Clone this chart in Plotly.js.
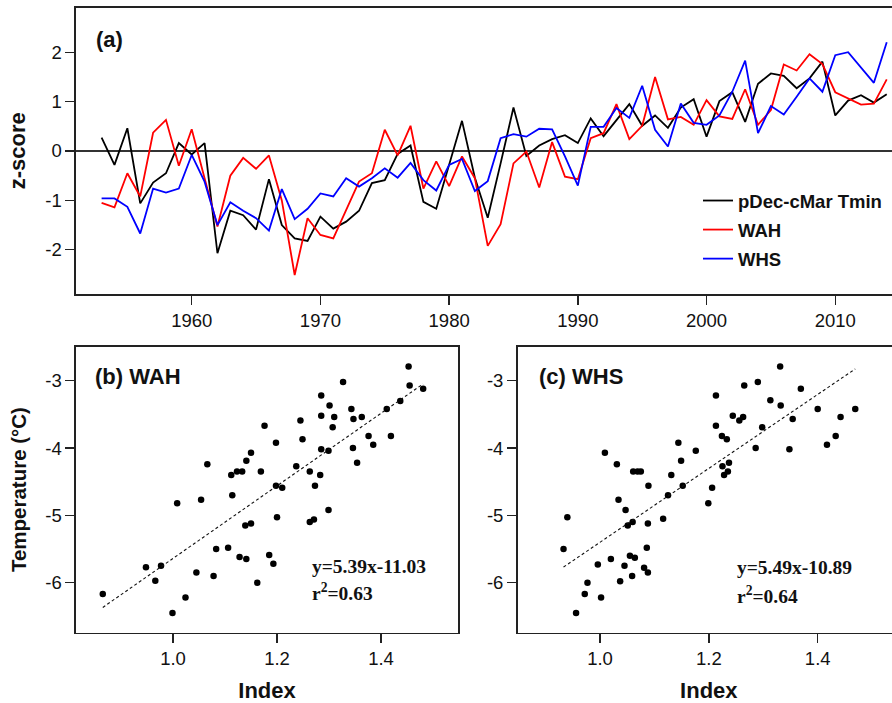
<!DOCTYPE html>
<html>
<head>
<meta charset="utf-8">
<script src="https://cdn.plot.ly/plotly-3.0.1.min.js"></script>
<style>
  html, body { margin: 0; padding: 0; overflow: hidden; background: #fff; }
  #chart { width: 900px; height: 703px; }
</style>
</head>
<body>
<div id="chart"></div>
<script>
// ---------- data ----------
const years = [1953,1954,1955,1956,1957,1958,1959,1960,1961,1962,1963,1964,1965,1966,1967,1968,1969,1970,1971,1972,
  1973,1974,1975,1976,1977,1978,1979,1980,1981,1982,1983,1984,1985,1986,1987,1988,1989,1990,1991,1992,
  1993,1994,1995,1996,1997,1998,1999,2000,2001,2002,2003,2004,2005,2006,2007,2008,2009,2010,2011,2012,2013,2014];

const tminZ = [0.27,-0.28,0.46,-1.06,-0.64,-0.45,0.16,-0.07,0.16,-2.07,-1.21,-1.30,-1.59,-0.57,-1.50,-1.77,-1.82,-1.33,-1.57,-1.43,
  -1.21,-0.65,-0.59,-0.06,0.11,-1.03,-1.17,-0.28,0.61,-0.54,-1.35,-0.25,0.88,-0.10,0.11,0.24,0.32,0.16,0.66,0.30,
  0.62,0.95,0.51,0.72,0.47,0.88,1.05,0.29,1.01,1.19,0.59,1.36,1.57,1.52,1.27,1.47,1.81,0.72,1.02,1.13,0.98,1.15];

const wahZ = [-1.05,-1.14,-0.45,-0.92,0.37,0.63,-0.30,0.44,-0.55,-1.53,-0.50,-0.14,-0.36,-0.09,-1.00,-2.51,-1.36,-1.70,-1.77,-1.20,
  -0.62,-0.45,0.43,-0.09,0.51,-0.76,-0.21,-0.71,-0.11,-0.55,-1.92,-1.48,-0.25,-0.01,-0.74,0.18,-0.52,-0.57,0.26,0.36,
  0.95,0.24,0.51,1.50,0.64,0.69,0.53,1.03,0.70,0.65,1.25,0.53,0.83,1.75,1.63,1.96,1.76,1.19,1.07,0.94,0.96,1.45];

const whsZ = [-0.96,-0.96,-1.13,-1.67,-0.76,-0.84,-0.76,-0.08,-0.62,-1.50,-1.04,-1.21,-1.36,-1.61,-0.77,-1.38,-1.17,-0.86,-0.92,-0.55,
  -0.72,-0.55,-0.35,-0.54,-0.24,-0.59,-0.80,-0.28,-0.16,-0.81,-0.61,0.26,0.34,0.29,0.45,0.44,-0.11,-0.70,0.49,0.49,
  0.87,0.67,1.32,0.43,0.09,0.96,0.57,0.53,0.72,1.20,1.83,0.36,0.91,0.74,1.10,1.47,1.20,1.94,2.00,1.69,1.38,2.20];

const seriesNames = ["pDec-cMar Tmin", "WAH", "WHS"];

// (b) WAH index vs temperature
const wahIndex = [0.865,0.948,0.977,0.966,0.999,1.008,1.024,1.045,1.054,1.066,1.078,1.083,1.106,1.112,1.114,1.123,1.133,1.141,1.150,1.128,
  1.141,1.139,1.150,1.162,1.169,1.176,1.185,1.193,1.198,1.198,1.210,1.200,1.237,1.245,1.249,1.263,1.263,1.271,1.273,1.283,
  1.285,1.285,1.285,1.299,1.301,1.299,1.307,1.310,1.327,1.343,1.346,1.347,1.354,1.363,1.376,1.385,1.411,1.419,1.437,1.453,1.455,1.481];
const wahTemp = [-6.17,-5.77,-5.75,-5.97,-6.45,-4.82,-6.22,-5.85,-4.77,-4.24,-5.90,-5.50,-5.48,-4.40,-4.70,-4.35,-4.35,-4.19,-4.07,-5.62,
  -5.65,-5.15,-5.12,-6.00,-4.35,-3.67,-5.59,-5.72,-3.92,-4.56,-4.59,-5.03,-4.27,-3.59,-3.87,-4.35,-5.10,-5.06,-4.56,-4.40,
  -3.22,-3.52,-4.02,-4.04,-3.37,-4.92,-3.69,-3.54,-3.02,-3.42,-4.00,-3.57,-4.22,-3.54,-3.82,-3.95,-3.42,-3.82,-3.30,-2.79,-3.07,-3.12];

// (c) WHS index vs temperature
const whsIndex = [0.933,0.940,0.956,0.972,0.977,0.996,1.002,1.009,1.020,1.031,1.034,1.037,1.045,1.047,1.051,1.055,1.059,1.060,1.061,1.064,
  1.069,1.075,1.081,1.086,1.088,1.088,1.089,1.116,1.125,1.131,1.144,1.149,1.152,1.176,1.199,1.206,1.213,1.213,1.224,1.225,
  1.228,1.233,1.235,1.237,1.244,1.256,1.263,1.265,1.286,1.290,1.298,1.313,1.331,1.332,1.348,1.354,1.369,1.400,1.417,1.433,1.442,1.469];
const whsTemp = [-5.50,-5.03,-6.45,-6.17,-6.00,-5.73,-6.22,-4.07,-5.65,-4.24,-4.77,-5.98,-5.75,-4.92,-5.15,-5.60,-5.90,-5.10,-4.35,-5.63,
  -4.35,-4.35,-5.78,-5.48,-5.12,-5.85,-4.56,-5.05,-4.70,-4.40,-3.92,-4.19,-4.56,-4.04,-4.82,-4.59,-3.67,-3.22,-3.82,-4.27,
  -4.40,-3.87,-4.35,-4.22,-3.52,-3.59,-3.54,-3.07,-4.00,-3.02,-3.69,-3.29,-2.79,-3.37,-4.02,-3.57,-3.12,-3.42,-3.95,-3.82,-3.54,-3.42];

// regression coefficients (as printed)
const wahFit = {slope: 5.39, intercept: -11.03, r2: "0.63"};
const whsFit = {slope: 5.49, intercept: -10.89, r2: "0.64"};

// tick labels
const yearTicks = [1960,1970,1980,1990,2000,2010];
const zTicks = [-2,-1,0,1,2];
const zTickText = ["-2","-1","0","1","2"];
const idxTicks = [1.0,1.2,1.4];
const idxTickText = ["1.0","1.2","1.4"];
const tTicks = [-6,-5,-4,-3];
const tTickText = ["-6","-5","-4","-3"];

// ---------- build ----------
const W = 900, H = 703;
const SANS = "Liberation Sans, Arial, Helvetica, sans-serif";
const SERIF = "Liberation Serif, Times New Roman, serif";
const px = v => v / W;
const py = v => 1 - v / H;

function fitLine(xs, fit, xa, ya) {
  const x0 = Math.min(...xs), x1 = Math.max(...xs);
  return {
    x: [x0, x1],
    y: [fit.slope * x0 + fit.intercept, fit.slope * x1 + fit.intercept],
    xaxis: xa, yaxis: ya, mode: "lines", showlegend: false, hoverinfo: "skip",
    line: {color: "#111", width: 1.1, dash: "3px,2.5px"}
  };
}

const traces = [
  {x: years, y: tminZ, name: seriesNames[0], legendgroup: "g1", mode: "lines", line: {color: "#000", width: 1.8}, xaxis: "x", yaxis: "y"},
  {x: years, y: wahZ, name: seriesNames[1], legendgroup: "g2", mode: "lines", line: {color: "#ff0000", width: 1.8}, xaxis: "x", yaxis: "y"},
  {x: years, y: whsZ, name: seriesNames[2], legendgroup: "g3", mode: "lines", line: {color: "#0000ff", width: 1.8}, xaxis: "x", yaxis: "y"},
  {x: wahIndex, y: wahTemp, mode: "markers", marker: {color: "#000", size: 6.5}, xaxis: "x2", yaxis: "y2", showlegend: false},
  fitLine(wahIndex, wahFit, "x2", "y2"),
  {x: whsIndex, y: whsTemp, mode: "markers", marker: {color: "#000", size: 6.5}, xaxis: "x3", yaxis: "y3", showlegend: false},
  fitLine(whsIndex, whsFit, "x3", "y3")
];

const axBase = {
  showline: true, linecolor: "#222", linewidth: 1.6, mirror: true,
  ticks: "outside", ticklen: 9, tickwidth: 1.4, tickcolor: "#222",
  showgrid: false, zeroline: false,
  tickfont: {family: SANS, size: 18.5, color: "#111"}
};
const titleFont = {family: SANS, size: 22, color: "#111", weight: "bold"};

const layout = {
  width: W, height: H,
  margin: {l: 0, r: 0, t: 0, b: 0},
  paper_bgcolor: "#fff", plot_bgcolor: "#fff",
  font: {family: SANS, color: "#111"},
  showlegend: true,
  legend: {
    x: px(698), y: py(182), xanchor: "left", yanchor: "top",
    bgcolor: "rgba(0,0,0,0)", borderwidth: 0,
    font: {family: SANS, size: 18.5, color: "#111", weight: "bold"},
    traceorder: "grouped", tracegroupgap: 2
  },
  xaxis: Object.assign({}, axBase, {
    domain: [px(76), 1], range: [1951.01, 2015.03], anchor: "y",
    tickvals: yearTicks
  }),
  yaxis: Object.assign({}, axBase, {
    domain: [py(294), py(7.5)], range: [-2.895, 2.905], anchor: "x",
    tickvals: zTicks, ticktext: zTickText,
    zeroline: true, zerolinecolor: "#333", zerolinewidth: 1.1,
    title: {text: "z-score", font: titleFont, standoff: 13}
  }),
  xaxis2: Object.assign({}, axBase, {
    domain: [px(76), px(458)], range: [0.8135, 1.548], anchor: "y2",
    tickvals: idxTicks, ticktext: idxTickText,
    title: {text: "Index", font: titleFont, standoff: 14}
  }),
  yaxis2: Object.assign({}, axBase, {
    domain: [py(632.5), py(346.7)], range: [-6.74, -2.495], anchor: "x2",
    tickvals: tTicks, ticktext: tTickText,
    title: {text: "Temperature (°C)", font: {family: SANS, size: 20.5, color: "#111", weight: "bold"}, standoff: 13}
  }),
  xaxis3: Object.assign({}, axBase, {
    domain: [px(517.7), 1], range: [0.8488, 1.5512], anchor: "y3",
    tickvals: idxTicks, ticktext: idxTickText,
    title: {text: "Index", font: titleFont, standoff: 14}
  }),
  yaxis3: Object.assign({}, axBase, {
    domain: [py(632.5), py(346.7)], range: [-6.74, -2.495], anchor: "x3",
    tickvals: tTicks, ticktext: tTickText
  }),
  annotations: [
    {text: "(a)", xref: "paper", yref: "paper", x: px(94), y: py(39.5), xanchor: "left", yanchor: "middle", showarrow: false,
     font: {family: SANS, size: 22, color: "#111", weight: "bold"}},
    {text: "(b) WAH", xref: "paper", yref: "paper", x: px(93), y: py(377), xanchor: "left", yanchor: "middle", showarrow: false,
     font: {family: SANS, size: 22, color: "#111", weight: "bold"}},
    {text: "(c) WHS", xref: "paper", yref: "paper", x: px(537), y: py(377), xanchor: "left", yanchor: "middle", showarrow: false,
     font: {family: SANS, size: 22, color: "#111", weight: "bold"}},
    {text: "y=" + wahFit.slope + "x" + wahFit.intercept, xref: "paper", yref: "paper", x: px(310), y: py(566), xanchor: "left", yanchor: "middle", showarrow: false,
     font: {family: SERIF, size: 19.5, color: "#111", weight: "bold"}},
    {text: "r<sup>2</sup>=" + wahFit.r2, xref: "paper", yref: "paper", x: px(310), y: py(592), xanchor: "left", yanchor: "middle", showarrow: false,
     font: {family: SERIF, size: 19.5, color: "#111", weight: "bold"}},
    {text: "y=" + whsFit.slope + "x" + whsFit.intercept, xref: "paper", yref: "paper", x: px(735), y: py(567), xanchor: "left", yanchor: "middle", showarrow: false,
     font: {family: SERIF, size: 19.5, color: "#111", weight: "bold"}},
    {text: "r<sup>2</sup>=" + whsFit.r2, xref: "paper", yref: "paper", x: px(735), y: py(595), xanchor: "left", yanchor: "middle", showarrow: false,
     font: {family: SERIF, size: 19.5, color: "#111", weight: "bold"}}
  ]
};

Plotly.newPlot("chart", traces, layout, {staticPlot: true, displayModeBar: false});
</script>
</body>
</html>
